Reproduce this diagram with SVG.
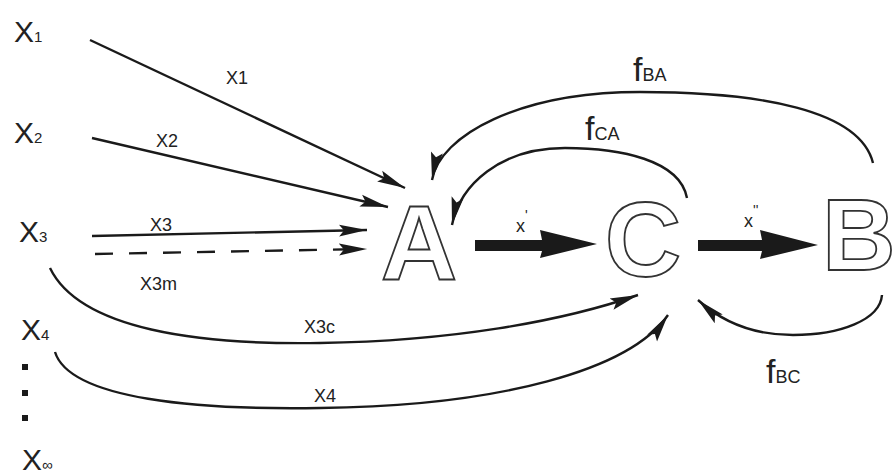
<svg xmlns="http://www.w3.org/2000/svg" width="895" height="475" viewBox="0 0 895 475">
<style>
.lbl{font-family:"Liberation Sans",Arial,sans-serif;fill:#222}
.big{font-family:"Liberation Sans",Arial,sans-serif;font-weight:bold;fill:#fff;stroke:#333;stroke-width:1.8}
.ln{fill:none;stroke:#1a1a1a;stroke-width:2.4}
.thick{fill:#1a1a1a;stroke:none}
</style>
<defs>
<marker id="ah" markerUnits="userSpaceOnUse" markerWidth="30" markerHeight="14" refX="28" refY="7" orient="auto">
<path d="M0,1 L28,7 L0,13 L5,7 Z" fill="#1a1a1a"/>
</marker>
</defs>
<rect width="895" height="475" fill="#fff"/>
<g id="sources">
<g id="X1"><text class="lbl" x="14" y="42" font-size="30">X<tspan font-size="15">1</tspan></text></g>
<g id="X2"><text class="lbl" x="14" y="143" font-size="30">X<tspan font-size="15">2</tspan></text></g>
<g id="X3"><text class="lbl" x="19" y="242" font-size="30">X<tspan font-size="15">3</tspan></text></g>
<g id="X4"><text class="lbl" x="21" y="340" font-size="30">X<tspan font-size="15">4</tspan></text></g>
<g id="dots"><rect x="22" y="364" width="6" height="6" fill="#1a1a1a"/><rect x="22" y="390" width="6" height="6" fill="#1a1a1a"/><rect x="22" y="415" width="6" height="6" fill="#1a1a1a"/></g>
<g id="Xinf"><text class="lbl" x="22" y="470" font-size="30">X<tspan font-size="15">∞</tspan></text></g>
</g>
<g id="A"><text class="big" x="419" y="280" font-size="106" text-anchor="middle">A</text></g>
<g id="C"><text class="big" x="643" y="276" font-size="106" text-anchor="middle">C</text></g>
<g id="B"><text class="big" x="822" y="270" font-size="102">B</text></g>
<g id="connectors">
<line class="ln" x1="90" y1="40" x2="405" y2="188" marker-end="url(#ah)"/>
<line class="ln" x1="92" y1="138" x2="388" y2="207" marker-end="url(#ah)"/>
<line class="ln" x1="92" y1="236" x2="367" y2="230" marker-end="url(#ah)"/>
<line class="ln" x1="95" y1="254" x2="367" y2="249" stroke-dasharray="18,16" marker-end="url(#ah)"/>
<path class="ln" d="M50,268 C80,330 200,345 320,343 C450,341 560,322 638,295" marker-end="url(#ah)"/>
<path class="ln" d="M55,352 C70,400 200,410 320,408 C500,406 630,370 668,315" marker-end="url(#ah)"/>
<path class="ln" d="M873,163 C860,110 760,92 640,92 C520,92 440,135 432,180" marker-end="url(#ah)"/>
<path class="ln" d="M687,198 C680,160 620,148 565,148 C500,148 460,185 452,225" marker-end="url(#ah)"/>
<path class="ln" d="M882,295 C880,320 840,335 793,335 C750,335 720,320 698,300" marker-end="url(#ah)"/>
<polygon class="thick" points="475,240 542,240 540,230 597,244 540,258 542,251 475,251"/>
<polygon class="thick" points="698,240 762,240 760,230 818,245 760,259 762,251 698,251"/>
</g>
<g id="labels">
<text class="lbl" x="226" y="84" font-size="18">X1</text>
<text class="lbl" x="156" y="147" font-size="18">X2</text>
<text class="lbl" x="150" y="231" font-size="18">X3</text>
<text class="lbl" x="140" y="290" font-size="18">X3m</text>
<text class="lbl" x="304" y="333" font-size="18">X3c</text>
<text class="lbl" x="314" y="402" font-size="18">X4</text>
<text class="lbl" x="516" y="232" font-size="18">x<tspan font-size="14" dy="-12">'</tspan></text>
<text class="lbl" x="744" y="227" font-size="18">x<tspan font-size="14" dy="-12">''</tspan></text>
<text class="lbl" x="633" y="81" font-size="34">f<tspan font-size="18">BA</tspan></text>
<text class="lbl" x="585" y="140" font-size="34">f<tspan font-size="18">CA</tspan></text>
<text class="lbl" x="766" y="383" font-size="34">f<tspan font-size="18">BC</tspan></text>
</g>
</svg>
